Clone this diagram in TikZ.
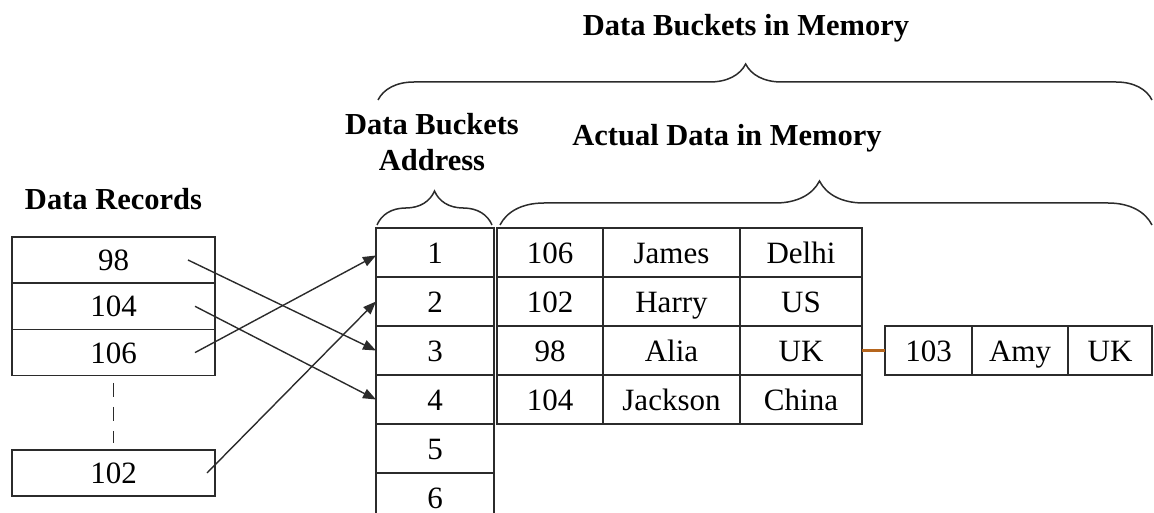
\documentclass[tikz,border=0pt]{standalone}
\usepackage{fontspec}
\setmainfont{Liberation Serif}
\usetikzlibrary{arrows.meta,positioning,decorations.pathreplacing}
\definecolor{ink}{HTML}{2B2B2B}
\definecolor{link}{HTML}{B5651D}
\tikzset{
  cell/.style={draw=ink, line width=1.4pt, minimum height=49pt, outer sep=0pt,
               inner sep=0pt, text height=23pt, text depth=2pt,
               font=\fontsize{31}{34}\selectfont},
  addr/.style={cell, minimum width=118pt},
  rec/.style={cell, minimum width=203pt, minimum height=46.3pt},
  head/.style={font=\fontsize{30.5}{36}\selectfont\bfseries, align=center},
  brc/.style={draw=ink, line width=1.5pt, decorate},
  arr/.style={-{Triangle[length=13pt, width=10pt]}, line width=1.4pt, draw=ink}
}
\begin{document}
\begin{tikzpicture}[x=1pt, y=-1pt]
  \useasboundingbox (0,0) rectangle (1154,513);
  \clip (0,0) rectangle (1154,513);
  % data records
  \node[rec] (r98) at (113.5,260) {98};
  \node[rec, below=0pt of r98] (r104) {104};
  \node[rec, below=0pt of r104] (r106) {106};
  \node[rec] (r102) at (113.5,473) {102};
  \draw[ink, line width=1.4pt, dash pattern=on 14pt off 10pt]
    ([yshift=-7pt]r106.south) -- ([yshift=7pt]r102.north);
  \node[head, above=24pt of r98] (rtitle) {Data Records};
  % bucket addresses
  \node[addr] (a1) at (435,252.5) {1};
  \foreach \i [remember=\i as \j (initially 1)] in {2,...,6}
    \node[addr, below=0pt of a\j] (a\i) {\i};
  % actual data
  \foreach \r/\id/\nm/\ct in {1/106/James/Delhi, 2/102/Harry/US, 3/98/Alia/UK, 4/104/Jackson/China} {
    \node[cell, minimum width=106pt, right=3pt of a\r] (id\r) {\id};
    \node[cell, minimum width=137pt, right=0pt of id\r] (nm\r) {\nm};
    \node[cell, minimum width=122pt, right=0pt of nm\r] (ct\r) {\ct};
  }
  % overflow bucket
  \node[cell, minimum width=87pt, right=23pt of ct3] (ov1) {103};
  \node[cell, minimum width=96pt, right=0pt of ov1] (ov2) {Amy};
  \node[cell, minimum width=84pt, right=0pt of ov2] (ov3) {UK};
  \draw[link, line width=2.2pt] (ct3) -- (ov1);
  % hash arrows
  \draw[arr] ([xshift=-27pt]r98.east) -- (a3.west);
  \draw[arr] ([xshift=-20pt]r104.east) -- (a4.west);
  \draw[arr] ([xshift=-20pt]r106.east) -- ([yshift=-3pt]a1.west);
  \draw[arr] ([xshift=-8pt]r102.east) -- (a2.west);
  % braces and titles
  \draw[brc, decoration={brace, amplitude=36pt, aspect=0.475}] (378,100) -- (1152,100);
  \draw[brc, decoration={brace, amplitude=34pt}] (377,225) -- (492,225);
  \draw[brc, decoration={brace, amplitude=44pt, aspect=0.49}] (500,225) -- (1152,225);
  \node[head] (ttop) at (746,28) {Data Buckets in Memory};
  \node[head] (taddr) at (432,142) {Data Buckets\\Address};
  \node[head] (tdata) at (727,138) {Actual Data in Memory};
\end{tikzpicture}
\end{document}
